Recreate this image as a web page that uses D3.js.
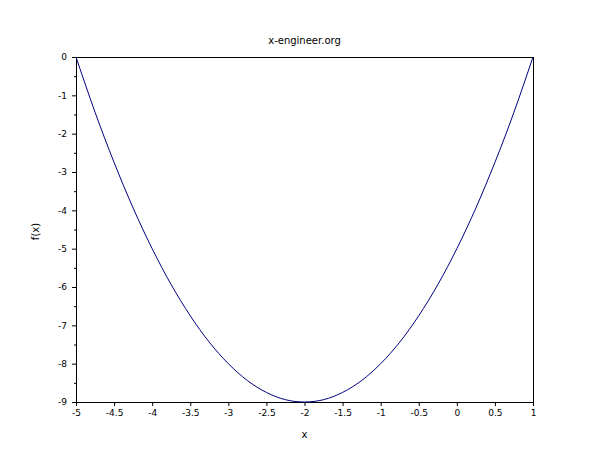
<!DOCTYPE html>
<html>
<head>
<meta charset="utf-8">
<script src="https://cdn.jsdelivr.net/npm/d3@7"></script>
<style>
  body { margin: 0; background: #fff; }
  svg text { font-family: "DejaVu Sans", sans-serif; font-size: 10px; fill: #000; }
</style>
</head>
<body>
<svg id="chart" width="610" height="460"></svg>
<script>
// values
var xs = [-5, -4.75, -4.5, -4.25, -4, -3.75, -3.5, -3.25, -3, -2.75, -2.5, -2.25, -2,
          -1.75, -1.5, -1.25, -1, -0.75, -0.5, -0.25, 0, 0.25, 0.5, 0.75, 1];
var fx = [0, -1.44, -2.75, -3.94, -5, -5.94, -6.75, -7.44, -8, -8.44, -8.75, -8.94, -9,
          -8.94, -8.75, -8.44, -8, -7.44, -6.75, -5.94, -5, -3.94, -2.75, -1.44, 0];
var xTicks = [-5, -4.5, -4, -3.5, -3, -2.5, -2, -1.5, -1, -0.5, 0, 0.5, 1];
var yTicks = [0, -1, -2, -3, -4, -5, -6, -7, -8, -9];
var yMinor = [-0.5, -1.5, -2.5, -3.5, -4.5, -5.5, -6.5, -7.5, -8.5];

var margin = {top: 57, right: 77, bottom: 58, left: 76},
    width = 610 - margin.left - margin.right,
    height = 460 - margin.top - margin.bottom;

var svg = d3.select("#chart")
  .append("g")
  .attr("transform", "translate(" + margin.left + "," + margin.top + ")");

var x = d3.scaleLinear().domain([-5, 1]).range([0, width]);
var y = d3.scaleLinear().domain([-9, 0]).range([height, 0]);

// frame top and right
svg.append("line").attr("x1", 0).attr("x2", width).attr("y1", 0.5).attr("y2", 0.5)
  .attr("stroke", "#000");
svg.append("line").attr("x1", width + 0.5).attr("x2", width + 0.5).attr("y1", 0).attr("y2", height)
  .attr("stroke", "#000");

var xAxis = svg.append("g")
  .attr("transform", "translate(0," + height + ")")
  .call(d3.axisBottom(x).tickValues(xTicks).tickSize(4).tickPadding(4)
    .tickFormat(function(d) { return String(d); }));

var yAxis = svg.append("g")
  .call(d3.axisLeft(y).tickValues(yTicks).tickSize(4).tickPadding(5)
    .tickFormat(function(d) { return String(d); }));

svg.append("g")
  .call(d3.axisLeft(y).tickValues(yMinor).tickSize(2).tickFormat(""))
  .select(".domain").remove();

svg.selectAll(".domain").attr("stroke", "#000");
svg.selectAll(".tick line").attr("stroke", "#000");
svg.selectAll(".tick text").style("font-family", "DejaVu Sans, sans-serif").style("font-size", "9px");

var line = d3.line()
  .x(function(d, i) { return x(xs[i]); })
  .y(function(d) { return y(d); })
  .curve(d3.curveNatural);

svg.append("path")
  .datum(fx)
  .attr("fill", "none")
  .attr("stroke", "#000080")
  .attr("stroke-width", 1)
  .attr("d", line);

// title and labels
svg.append("text").attr("x", width / 2).attr("y", -13).attr("text-anchor", "middle")
  .text("x-engineer.org");
svg.append("text").attr("x", width / 2).attr("y", height + 36).attr("text-anchor", "middle")
  .text("x");
svg.append("text")
  .attr("transform", "translate(-37," + (height / 2 + 2) + ") rotate(-90)")
  .attr("text-anchor", "middle")
  .text("f(x)");
</script>
</body>
</html>
